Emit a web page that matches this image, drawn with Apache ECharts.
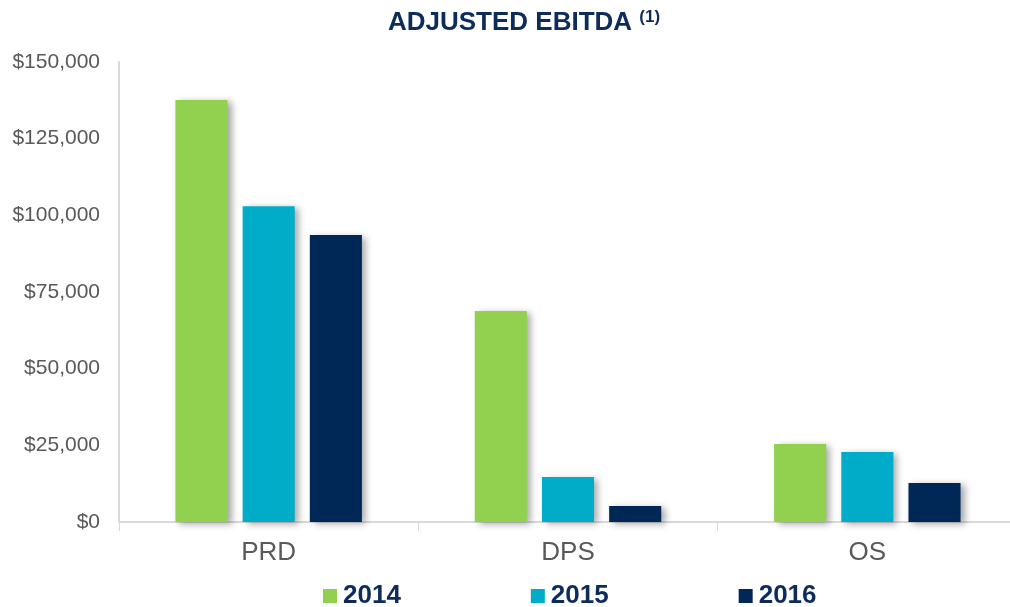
<!DOCTYPE html>
<html><head><meta charset="utf-8">
<script src="https://cdn.jsdelivr.net/npm/echarts@6/dist/echarts.min.js"></script>
<style>html,body{margin:0;padding:0;background:#fff}#c{width:1010px;height:607px}</style>
</head><body><div id="c"></div>
<script>
const categories = ['PRD', 'DPS', 'OS'];
const years = ['2014', '2015', '2016'];
const values2014 = [137600, 68800, 25400];
const values2015 = [103000, 14700, 22800];
const values2016 = [93600, 5200, 12700];
const yTicks = [0, 25000, 50000, 75000, 100000, 125000, 150000];
const colors = ['#92D050', '#00ACC8', '#002856'];

const chart = echarts.init(document.getElementById('c'));
const shadow = {shadowColor: 'rgba(0,0,0,0.35)', shadowBlur: 7, shadowOffsetX: 4, shadowOffsetY: 2};
const seriesData = [values2014, values2015, values2016];
chart.setOption({
  animation: false,
  title: {
    text: '{t|ADJUSTED EBITDA }{s|(1)}',
    left: 519, top: 4, textAlign: 'center',
    textStyle: {rich: {
      t: {fontFamily: 'Liberation Sans, Arial', fontWeight: 'bold', fontSize: 26, color: '#0D2B5B'},
      s: {fontFamily: 'Liberation Sans, Arial', fontWeight: 'bold', fontSize: 17, color: '#0D2B5B', verticalAlign: 'top', padding: [0,0,10,0]}
    }}
  },
  legend: {
    data: years, top: 578, left: 318, itemGap: 130, itemWidth: 14, itemHeight: 14,
    icon: 'rect',
    textStyle: {fontFamily: 'Liberation Sans, Arial', fontWeight: 'bold', fontSize: 26, color: '#0D2B5B', padding: [0,0,0,1]}
  },
  grid: {left: 119, width: 898, top: 62, bottom: 85, containLabel: false, outerBoundsMode: 'none'},
  xAxis: {
    type: 'category', data: categories,
    axisLine: {lineStyle: {color: '#D9D9D9', width: 2}},
    axisTick: {show: true, length: 9, lineStyle: {color: '#D9D9D9'}},
    axisLabel: {fontFamily: 'Liberation Sans, Arial', fontSize: 26, color: '#595959', margin: 18}
  },
  yAxis: {
    type: 'value', min: 0, max: 150000, interval: 25000,
    axisLine: {show: true, lineStyle: {color: '#D9D9D9', width: 2}},
    axisTick: {show: false},
    splitLine: {show: false},
    axisLabel: {fontFamily: 'Liberation Sans, Arial', fontSize: 21, color: '#595959', margin: 19,
      formatter: v => yTicks.includes(v) ? '$' + v.toLocaleString('en-US') : ''}
  },
  series: years.map((y, i) => ({
    name: y, type: 'bar', data: seriesData[i],
    barWidth: '17.4%', barGap: '29%',
    itemStyle: Object.assign({color: colors[i]}, shadow)
  }))
});
</script></body></html>
